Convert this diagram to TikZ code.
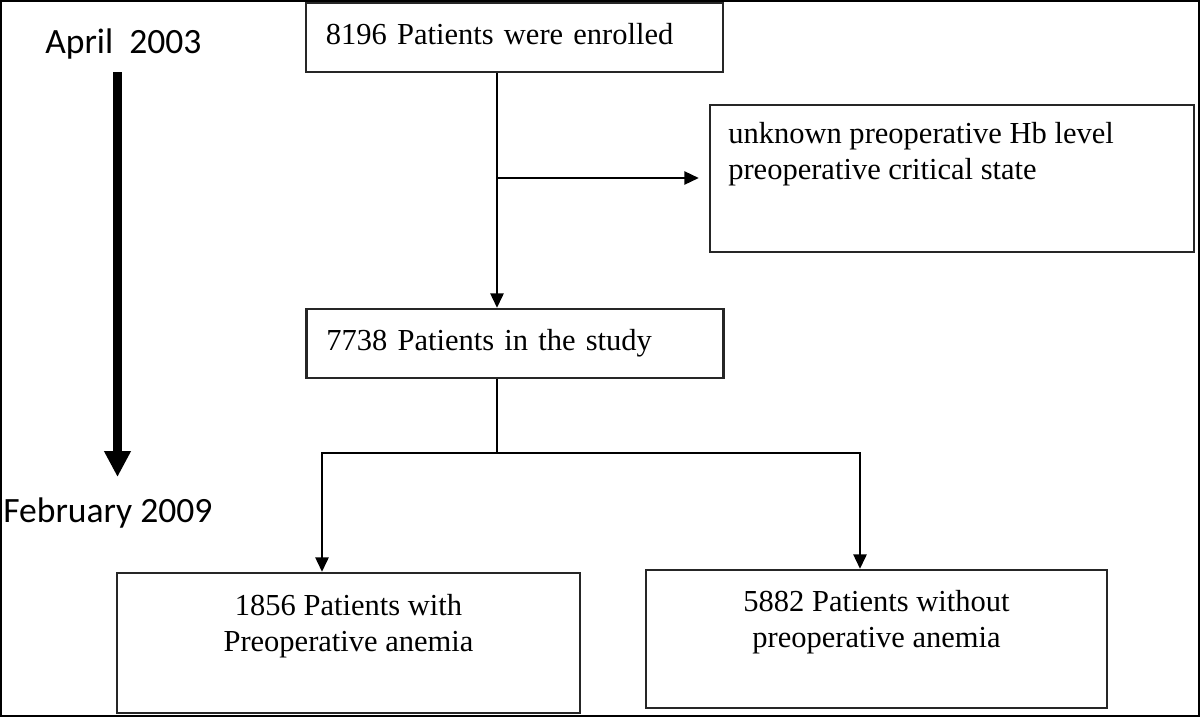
\documentclass[tikz,border=0pt]{standalone}
\usepackage{fontspec}
\setmainfont{Liberation Serif}
\newfontfamily\datefont{Carlito}
\usetikzlibrary{arrows.meta}
\tikzset{font=\fontsize{21.7pt}{25.8pt}\selectfont}

\begin{document}
\begin{tikzpicture}[x=0.025cm, y=-0.025cm]
	\useasboundingbox (0,0) rectangle (1200,717);
	\draw [line width=0.06cm] (1.2,1.2) rectangle (1198.8,715.8);
	\begin{scope}
		\tikzstyle{every node}=[inner sep=0pt]
		\tikzstyle{box}=[draw=black!85, line width=0.06cm]
		\tikzstyle{onebox}=[box, align=left, text width=9.425cm, inner xsep=0.5cm, minimum height=1.725cm, text height=0.52cm, text depth=0.165cm]
		\tikzstyle{flow}=[line width=0.05cm, -{Triangle[width=0.33cm,length=0.36cm]}]
		\tikzstyle{date}=[anchor=base west, font=\datefont\fontsize{25.3pt}{30pt}\selectfont]

		\node [date] (apr) at (45,53) {April\ \ 2003};
		\node [date] (feb) at (3,522) {February 2009};

		\node [onebox] (enrol) at (514.5,37.5) {8196 Patients were enrolled};
		\node [onebox] (study) at (515,343.5) {7738 Patients in the study};

		\node [box, minimum width=12.1cm, minimum height=3.675cm] (excl) at (952,178.5) {};
		\node [anchor=north west, align=left] (excltxt) at (728,122) {unknown preoperative Hb level\\preoperative critical state};

		\node [box, minimum width=11.575cm, minimum height=3.5cm] (anemia) at (348.5,643) {};
		\node [anchor=north, align=center] (anemiatxt) at (348.5,594) {1856 Patients with\\Preoperative anemia};

		\node [box, minimum width=11.525cm, minimum height=3.45cm] (noanemia) at (876.5,639) {};
		\node [anchor=north, align=center] (noanemiatxt) at (876.5,590) {5882 Patients without\\preoperative anemia};

		\coordinate (split) at (497,178);
		\coordinate (fork) at (497,453);
		\coordinate (forkl) at (322,453);
		\coordinate (forkr) at (860,453);
		\coordinate (tstart) at (117.5,72);
		\coordinate (tend) at (117.5,477);

		\draw [flow] (split |- enrol.south) -- (split |- study.north);
		\draw [flow, shorten >=0.25cm] (split) -- (split -| excl.west);
		\draw [line width=0.05cm] (fork |- study.south) -- (fork);
		\draw [flow] (fork) -| (forkl |- anemia.north);
		\draw [flow] (fork) -| (forkr |- noanemia.north);

		\draw [line width=0.225cm, -{Triangle[width=0.63cm,length=0.65cm]}] (tstart) -- (tend);
	\end{scope}
\end{tikzpicture}
\end{document}
